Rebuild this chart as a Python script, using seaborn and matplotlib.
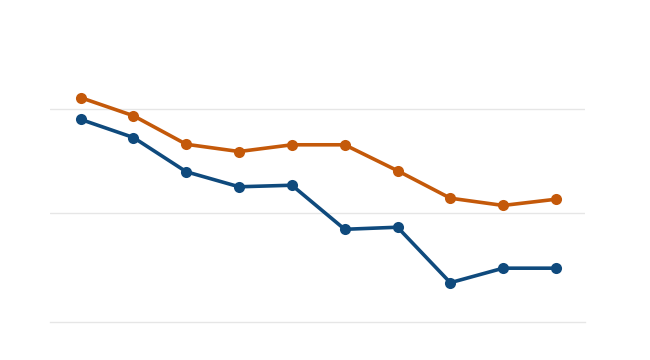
import matplotlib
matplotlib.use("Agg")
import matplotlib.pyplot as plt
import seaborn as sns
import pandas as pd

periods = list(range(10))
series_orange = [62.2, 58.7, 53.2, 51.8, 53.1, 53.1, 48.1, 42.8, 41.4, 42.6]
series_blue = [58.0, 54.5, 47.9, 45.0, 45.3, 36.8, 37.2, 26.5, 29.3, 29.3]
grid_values = [40, 60]

df = pd.DataFrame({
    "period": periods * 2,
    "value": series_orange + series_blue,
    "series": ["orange"] * 10 + ["blue"] * 10,
})

sns.set_theme(style="white")
fig = plt.figure(figsize=(6.5, 3.6), dpi=100)
ax = fig.add_axes([50 / 650, 38 / 360, 535 / 650, 302 / 360])

palette = {"orange": "#c4590a", "blue": "#0f4a7d"}
sns.lineplot(data=df, x="period", y="value", hue="series", palette=palette,
             marker="o", markersize=8, markeredgewidth=0, linewidth=2.6,
             legend=False, ax=ax, zorder=3)

ax.set_xlim(-0.58, 9.55)
ax.set_ylim(18.92, 77.17)
ax.set_yticks(grid_values)
ax.set_xticks([])
ax.yaxis.grid(True, color="#e6e6e6", linewidth=1)
ax.tick_params(left=False, labelleft=False, bottom=False, labelbottom=False)
for s in ["top", "right", "left"]:
    ax.spines[s].set_visible(False)
ax.spines["bottom"].set_color("#e6e6e6")
ax.spines["bottom"].set_linewidth(1)
ax.set_xlabel("")
ax.set_ylabel("")

fig.savefig("out.png", dpi=100)
